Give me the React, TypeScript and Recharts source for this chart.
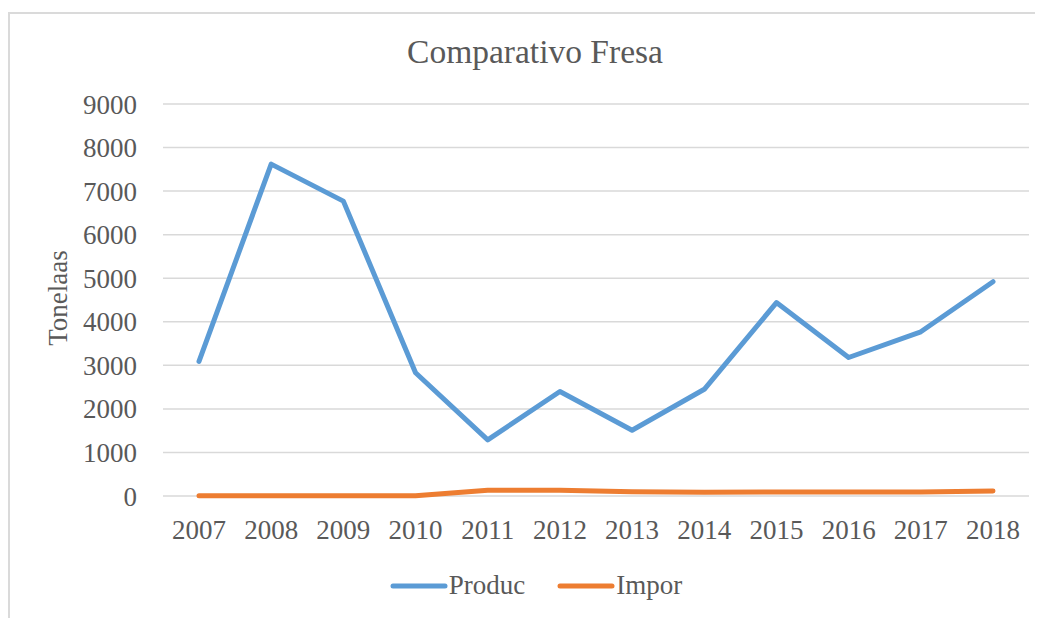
import { CartesianGrid, Line, LineChart, XAxis, YAxis } from "recharts";

const years = ["2007", "2008", "2009", "2010", "2011", "2012", "2013", "2014", "2015", "2016", "2017", "2018"];
const produc = [3090, 7620, 6770, 2830, 1290, 2400, 1510, 2450, 4440, 3180, 3770, 4920];
const impor = [5, 5, 5, 5, 130, 130, 95, 85, 90, 90, 90, 115];
const yTicks = [0, 1000, 2000, 3000, 4000, 5000, 6000, 7000, 8000, 9000];

const series = [
  { key: "Produc", color: "#5B9BD5" },
  { key: "Impor", color: "#ED7D31" },
];

const data = years.map((y, i) => ({ year: y, Produc: produc[i], Impor: impor[i] }));

const font = '"Liberation Serif", "Times New Roman", serif';
const txt = "#595959";

export default function App() {
  return (
    <div style={{ position: "relative", width: 1035, height: 610, overflow: "hidden", fontFamily: font }}>
      <div
        style={{
          position: "absolute",
          left: 0,
          top: 4,
          width: 1200,
          height: 800,
          borderLeft: "2px solid #dadada",
          borderTop: "2px solid #dadada",
        }}
      />
      <div
        style={{
          position: "absolute",
          left: 0,
          width: 1054,
          top: 27,
          textAlign: "center",
          fontSize: 33.5,
          lineHeight: 1,
          color: txt,
        }}
      >
        Comparativo Fresa
      </div>
      <LineChart
        width={1035}
        height={610}
        data={data}
        margin={{ top: 96, right: 14, bottom: 62, left: 0 }}
        style={{ position: "absolute", left: 0, top: 0 }}
      >
        <CartesianGrid vertical={false} stroke="#d9d9d9" strokeWidth={1.5} />
        <XAxis
          dataKey="year"
          axisLine={false}
          tickLine={false}
          height={60}
          tickMargin={18}
          padding={{ left: 36, right: 36 }}
          tick={{ fontSize: 27, fill: txt, fontFamily: font }}
          interval={0}
        />
        <YAxis
          domain={[0, 9000]}
          ticks={yTicks}
          width={155}
          axisLine={false}
          tickLine={false}
          tickMargin={20}
          tick={{ fontSize: 27, fill: txt, fontFamily: font }}
          label={{
            position: "center",
            content: () => (
              <text
                x={50}
                y={290}
                transform="rotate(-90 50 290)"
                textAnchor="middle"
                dominantBaseline="central"
                fontSize={27}
                fill={txt}
                fontFamily={font}
              >
                Tonelaas
              </text>
            ),
          }}
        />
        {series.map((s) => (
          <Line
            key={s.key}
            type="linear"
            dataKey={s.key}
            stroke={s.color}
            strokeWidth={5}
            strokeLinecap="round"
            strokeLinejoin="round"
            dot={false}
            activeDot={false}
            isAnimationActive={false}
          />
        ))}
      </LineChart>
      <div
        style={{
          position: "absolute",
          left: 0,
          width: 1056,
          top: 564,
          display: "flex",
          justifyContent: "center",
          alignItems: "center",
          fontSize: 27,
          color: txt,
          lineHeight: 1,
        }}
      >
        {series.map((s, i) => (
          <div key={s.key} style={{ display: "flex", alignItems: "center", marginLeft: i ? 32 : 0 }}>
            <svg width={58} height={10}>
              <line x1={3} y1={5} x2={55} y2={5} stroke={s.color} strokeWidth={5} strokeLinecap="round" />
            </svg>
            <span style={{ marginLeft: 1 }}>{s.key}</span>
          </div>
        ))}
      </div>
    </div>
  );
}
